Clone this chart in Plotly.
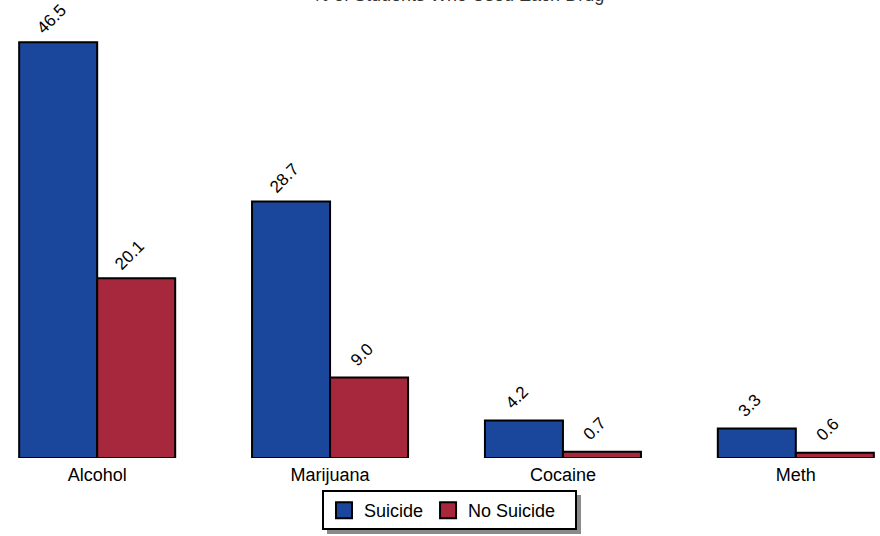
import plotly.graph_objects as go

categories = ["Alcohol", "Marijuana", "Cocaine", "Meth"]
suicide = [46.5, 28.7, 4.2, 3.3]
no_suicide = [20.1, 9.0, 0.7, 0.6]
series_names = ["Suicide", "No Suicide"]
title_text = "% of Students Who Used Each Drug"

BLUE = "#1a479b"
RED = "#a7283d"
FONT = "Liberation Sans, Arial, sans-serif"

W, H = 880, 536
ML, MR, MT, MB = 18, 5, 11, 78
PW = W - ML - MR
PH = H - MT - MB
BARGAP = 0.33
BARW = (1 - BARGAP) / 2


def px_x(p):
    return (p - ML) / PW


def px_y(p):
    return (H - MB - p) / PH


fig = go.Figure()
for k, (vals, color) in enumerate([(suicide, BLUE), (no_suicide, RED)]):
    fig.add_trace(go.Bar(
        x=categories, y=vals,
        marker=dict(color=color, line=dict(color="black", width=2)),
        showlegend=False, hoverinfo="skip",
    ))
    off = (k - 0.5) * BARW
    for i, v in enumerate(vals):
        fig.add_annotation(
            x=i + off, y=v, xref="x", yref="y", text=f"{v:.1f}",
            textangle=-45, showarrow=False, xanchor="center", yanchor="middle",
            xshift=-7, yshift=23,
            font=dict(family=FONT, size=17, color="black"),
        )

# legend entries
for name, color in zip(series_names, [BLUE, RED]):
    fig.add_trace(go.Scatter(
        x=[None], y=[None], mode="markers", name=name,
        marker=dict(symbol="square", size=16, color=color,
                    line=dict(color="black", width=2)),
    ))

# legend shadow and frame
fig.add_shape(type="rect", xref="paper", yref="paper",
              x0=px_x(327), x1=px_x(581), y0=px_y(534), y1=px_y(495),
              fillcolor="#8a8a8a", line=dict(width=0), layer="below")
fig.add_shape(type="rect", xref="paper", yref="paper",
              x0=px_x(323), x1=px_x(576), y0=px_y(529), y1=px_y(491),
              fillcolor="white", line=dict(width=2, color="black"), layer="below")

fig.add_annotation(text=title_text, xref="paper", yref="paper",
                   x=px_x(458), y=px_y(7), xanchor="center", yanchor="bottom",
                   showarrow=False, font=dict(family=FONT, size=18, color="#333333"))

fig.update_layout(
    width=W, height=H,
    margin=dict(l=ML, r=MR, t=MT, b=MB, autoexpand=False),
    paper_bgcolor="white", plot_bgcolor="white",
    barmode="group", bargap=BARGAP, bargroupgap=0,
    font=dict(family=FONT, size=18, color="black"),
    xaxis=dict(range=[-0.34, 3.34], showgrid=False, zeroline=False,
               showline=False, ticks="", tickfont=dict(size=18), automargin=False,
               ticklabelstandoff=4, fixedrange=True),
    yaxis=dict(range=[0, 50], visible=False, fixedrange=True),
    legend=dict(orientation="h", x=px_x(322), xanchor="left",
                y=px_y(490), yanchor="top",
                bgcolor="rgba(0,0,0,0)", bordercolor="rgba(0,0,0,0)", borderwidth=2,
                font=dict(size=18), itemwidth=30),
)

fig.write_html("out.html", config={"displayModeBar": False},
               post_script="document.body.style.margin='0';")
